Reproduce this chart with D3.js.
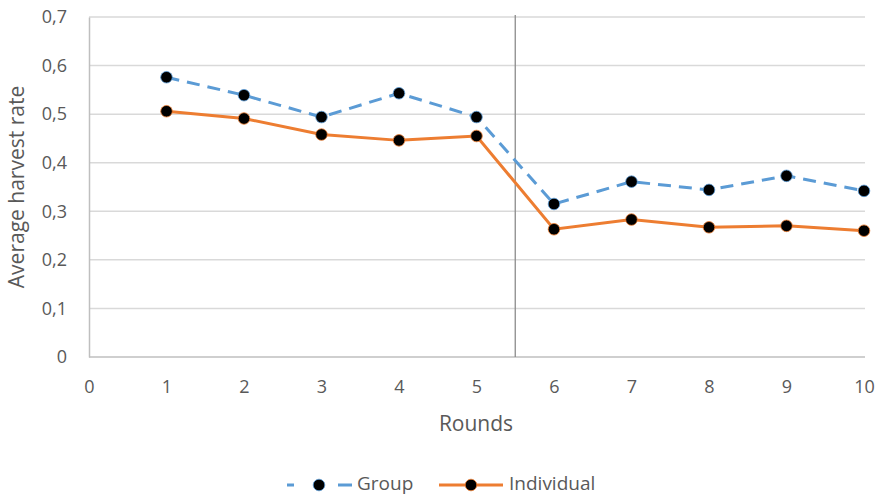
<!DOCTYPE html>
<html><head><meta charset="utf-8">
<script src="https://cdn.jsdelivr.net/npm/d3@7"></script>
<style>body{margin:0;background:#fff}svg{display:block}text{font-family:"Open Sans",sans-serif;fill:#595959}</style>
</head><body><svg id="c" width="878" height="496"></svg>
<script>
const rounds = [1,2,3,4,5,6,7,8,9,10];
const groupValues = [0.576,0.539,0.494,0.543,0.494,0.315,0.361,0.344,0.373,0.342];
const individualValues = [0.506,0.491,0.458,0.446,0.455,0.263,0.283,0.267,0.270,0.260];
const xTicks = [0,1,2,3,4,5,6,7,8,9,10];
const yTicks = [0,0.1,0.2,0.3,0.4,0.5,0.6,0.7];
const seriesNames = ["Group","Individual"];
const dividerX = 5.5;

const svg = d3.select("#c");
const x = d3.scaleLinear().domain([0,10]).range([89,864]);
const y = d3.scaleLinear().domain([0,0.7]).range([357,17]);
const fmt = d => String(+d.toFixed(1)).replace(".", ",");

// gridlines
svg.append("g").selectAll("line").data(yTicks.slice(1)).join("line")
  .attr("x1", x(0)).attr("x2", 865).attr("y1", d=>y(d)).attr("y2", d=>y(d))
  .attr("stroke","#d9d9d9").attr("stroke-width",1.5);

// y axis
const ya = svg.append("g").attr("transform",`translate(${x(0)},0)`)
  .call(d3.axisLeft(y).tickValues(yTicks).tickFormat(fmt).tickSize(0).tickPadding(22));
ya.select(".domain").attr("stroke","#bfbfbf").attr("stroke-width",1.5);
ya.selectAll("text").style("font-size","18px").attr("fill","#595959").style("font-family","'Open Sans',sans-serif");

// x axis
const xa = svg.append("g").attr("transform",`translate(0,${y(0)})`)
  .call(d3.axisBottom(x).tickValues(xTicks).tickFormat(d=>d).tickSize(0).tickPadding(23));
xa.select(".domain").attr("stroke","#bfbfbf").attr("stroke-width",1.5).attr("d",`M${x(0)},0H865`);
xa.selectAll("text").style("font-size","18px").attr("fill","#595959").style("font-family","'Open Sans',sans-serif");

// divider
svg.append("line").attr("x1",x(dividerX)).attr("x2",x(dividerX)).attr("y1",15).attr("y2",y(0))
  .attr("stroke","#8c8c8c").attr("stroke-width",1.3);

const line = d3.line().x((d,i)=>x(rounds[i])).y(d=>y(d));
svg.append("path").datum(groupValues).attr("d",line).attr("fill","none")
  .attr("stroke","#5b9bd5").attr("stroke-width",3).attr("stroke-dasharray","13,8");
svg.append("path").datum(individualValues).attr("d",line).attr("fill","none")
  .attr("stroke","#ed7d31").attr("stroke-width",3);

[[groupValues,"#5b9bd5"],[individualValues,"#ed7d31"]].forEach(([vals,c])=>{
  svg.append("g").selectAll("circle").data(vals).join("circle")
    .attr("cx",(d,i)=>x(rounds[i])).attr("cy",d=>y(d)).attr("r",5.8)
    .attr("fill","#000").attr("stroke",c).attr("stroke-width",0.8);
});

// axis titles
svg.append("text").attr("x",476).attr("y",431).attr("text-anchor","middle")
  .style("font-size","21px").text("Rounds");
svg.append("text").attr("transform","translate(24,187) rotate(-90)").attr("text-anchor","middle")
  .style("font-size","21px").text("Average harvest rate");

// legend
const lg = svg.append("g");
lg.append("line").attr("x1",287).attr("x2",353).attr("y1",485).attr("y2",485)
  .attr("stroke","#5b9bd5").attr("stroke-width",3).attr("stroke-dasharray","7,44,14");
lg.append("circle").attr("cx",319).attr("cy",485).attr("r",5.8).attr("fill","#000").attr("stroke","#5b9bd5").attr("stroke-width",0.8);
lg.append("text").attr("x",357).attr("y",490).style("font-size","19px").text(seriesNames[0]);
lg.append("line").attr("x1",439).attr("x2",503).attr("y1",485).attr("y2",485)
  .attr("stroke","#ed7d31").attr("stroke-width",3);
lg.append("circle").attr("cx",471).attr("cy",485).attr("r",5.8).attr("fill","#000").attr("stroke","#ed7d31").attr("stroke-width",0.8);
lg.append("text").attr("x",509).attr("y",490).style("font-size","19px").text(seriesNames[1]);
</script></body></html>
